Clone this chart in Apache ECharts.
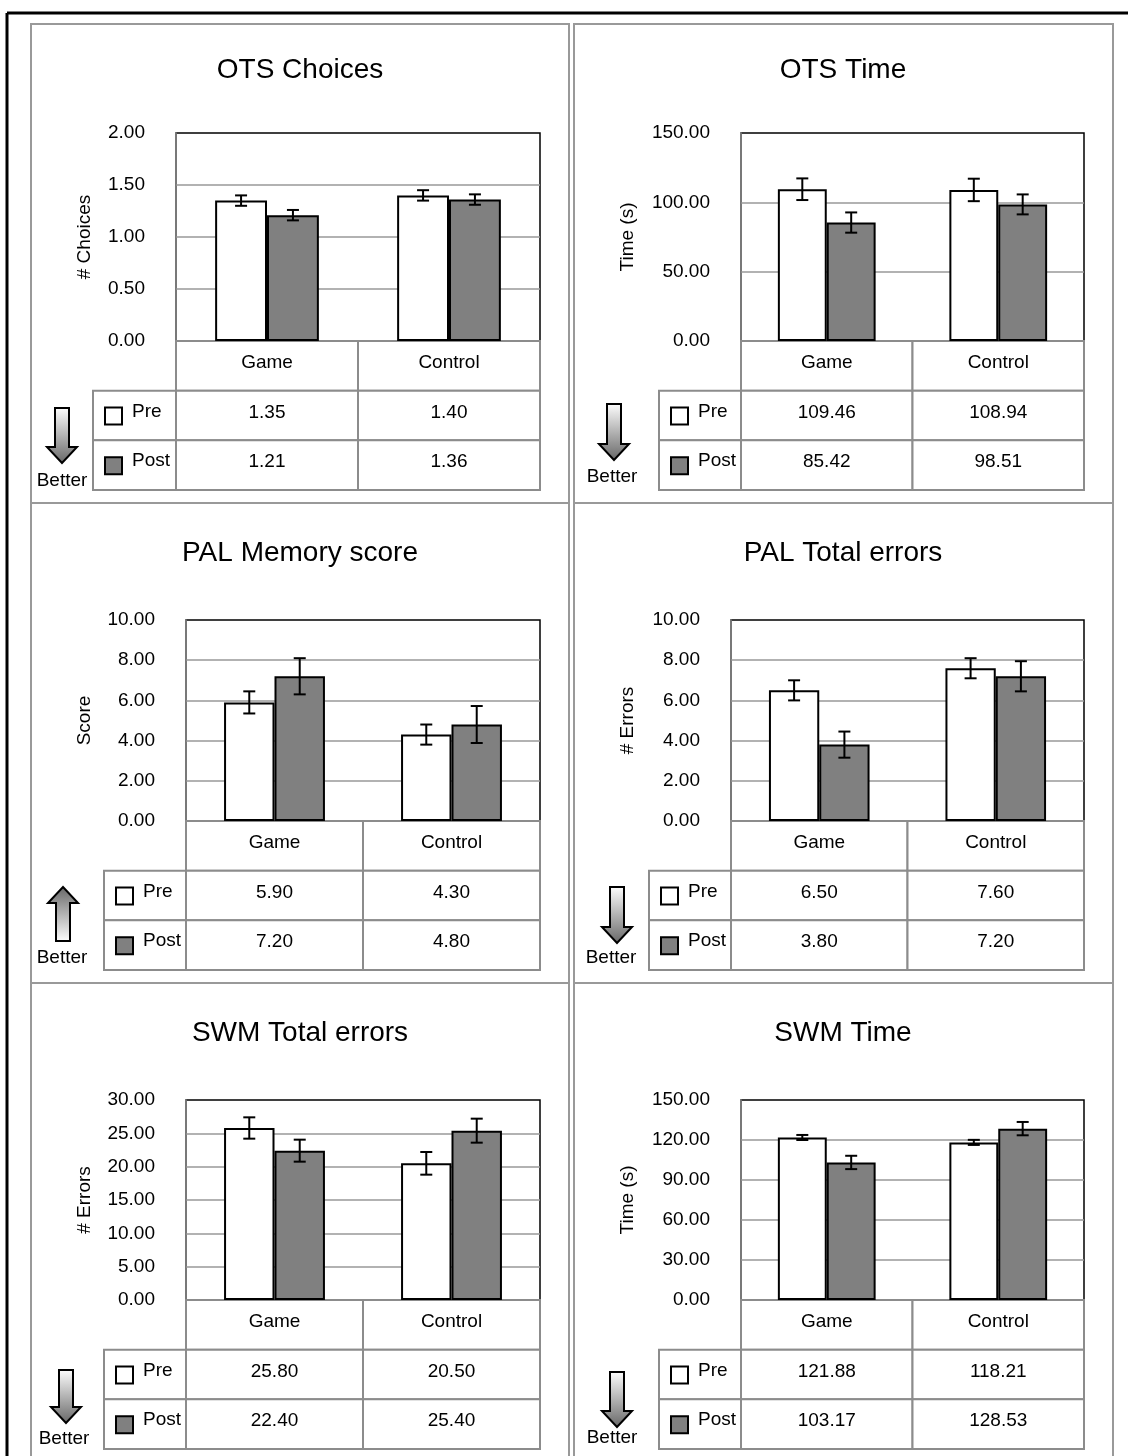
<!DOCTYPE html>
<html><head><meta charset="utf-8">
<script src="https://cdn.jsdelivr.net/npm/echarts@6/dist/echarts.min.js"></script>
<style>html,body{margin:0;padding:0;background:#fff}#c{width:1128px;height:1456px}</style>
</head><body><div id="c"></div>
<script>
// ---------- data ----------
const categories = ['Game', 'Control'];
const seriesNames = ['Pre', 'Post'];
const titles = ['OTS Choices', 'OTS Time', 'PAL Memory score', 'PAL Total errors', 'SWM Total errors', 'SWM Time'];
const yNames = ['# Choices', 'Time (s)', 'Score', '# Errors', '# Errors', 'Time (s)'];
const yMax = [2, 150, 10, 10, 30, 150];
const yInterval = [0.5, 50, 2, 2, 5, 30];
const preValues  = [[1.35, 1.40], [109.46, 108.94], [5.90, 4.30], [6.50, 7.60], [25.80, 20.50], [121.88, 118.21]];
const postValues = [[1.21, 1.36], [85.42, 98.51], [7.20, 4.80], [3.80, 7.20], [22.40, 25.40], [103.17, 128.53]];
const preErrors  = [[0.05, 0.05], [7.8, 8.1], [0.55, 0.5], [0.5, 0.5], [1.6, 1.7], [1.9, 1.9]];
const postErrors = [[0.05, 0.05], [7.3, 7.2], [0.9, 0.92], [0.65, 0.75], [1.65, 1.8], [5, 5]];
const betterDirection = ['down', 'down', 'up', 'down', 'down', 'down'];
const betterLabel = 'Better';

// ---------- layout ----------
const FONT = 'Liberation Sans, Arial, Helvetica, sans-serif';
const FS = 19;
const layout = [
  {left: 176, right: 540, top: 133, bottom: 341, legendW: 83, nameGap: 82, titleX: 300, titleY: 70, ax: 62, a0: 408, a1: 463, bx: 62, by: 481},
  {left: 741, right: 1084, top: 133, bottom: 341, legendW: 82, nameGap: 104, titleX: 843, titleY: 70, ax: 614, a0: 404, a1: 460, bx: 612, by: 477},
  {left: 186, right: 540, top: 620, bottom: 821, legendW: 82, nameGap: 92, titleX: 300, titleY: 553, ax: 63, a0: 887, a1: 941, bx: 62, by: 958},
  {left: 731, right: 1084, top: 620, bottom: 821, legendW: 82, nameGap: 94, titleX: 843, titleY: 553, ax: 617, a0: 887, a1: 943, bx: 611, by: 958},
  {left: 186, right: 540, top: 1100, bottom: 1300, legendW: 82, nameGap: 92, titleX: 300, titleY: 1033, ax: 66, a0: 1370, a1: 1423, bx: 64, by: 1439},
  {left: 741, right: 1084, top: 1100, bottom: 1300, legendW: 82, nameGap: 104, titleX: 843, titleY: 1033, ax: 617, a0: 1372, a1: 1427, bx: 612, by: 1438}
];
const TABLE_H = 149;
const GAP = 0.43;
const PRE_COLOR = '#ffffff', POST_COLOR = '#808080';

const grids = [], xAxes = [], yAxes = [], series = [], graphics = [];

// frame
graphics.push({type: 'line', shape: {x1: 7, y1: 13, x2: 1128, y2: 13}, style: {stroke: '#000', lineWidth: 3}});
graphics.push({type: 'line', shape: {x1: 7, y1: 13, x2: 7, y2: 1456}, style: {stroke: '#000', lineWidth: 3}});
[[31, 569], [574, 1113]].forEach(([x0, x1]) => {
  [[24, 503], [503, 983], [983, 1480]].forEach(([y0, y1]) => {
    graphics.push({type: 'rect', shape: {x: x0, y: y0, width: x1 - x0, height: y1 - y0}, style: {fill: 'none', stroke: '#999', lineWidth: 2}});
  });
});

function errRender(params, api) {
  const ci = api.value(0);
  const band = api.size([1, 0])[0];
  const bw = band * (1 - GAP) / 2;
  const children = [];
  [[1, 2, -1], [3, 4, 1]].forEach(([vi, ei, s]) => {
    const v = api.value(vi), e = api.value(ei);
    const t = api.coord([ci, v + e]), b = api.coord([ci, v - e]);
    const x = t[0] + s * bw / 2;
    const st = {stroke: '#000', lineWidth: 2};
    children.push({type: 'line', shape: {x1: x, y1: t[1], x2: x, y2: b[1]}, style: st});
    children.push({type: 'line', shape: {x1: x - 6, y1: t[1], x2: x + 6, y2: t[1]}, style: st});
    children.push({type: 'line', shape: {x1: x - 6, y1: b[1], x2: x + 6, y2: b[1]}, style: st});
  });
  return {type: 'group', children};
}

titles.forEach((title, p) => {
  const L = layout[p];
  const gP = 2 * p, gT = 2 * p + 1;
  grids.push({left: L.left, top: L.top, width: L.right - L.left, height: L.bottom - L.top, show: true, borderColor: '#000', borderWidth: 1.5, backgroundColor: '#fff'});
  grids.push({left: L.left, top: L.bottom, width: L.right - L.left, height: TABLE_H, show: false});
  xAxes.push({type: 'category', gridIndex: gP, data: categories, axisLine: {show: false}, axisTick: {show: false}, axisLabel: {show: false}});
  xAxes.push({type: 'category', gridIndex: gT, data: categories, show: false});
  yAxes.push({
    type: 'value', gridIndex: gP, min: 0, max: yMax[p], interval: yInterval[p],
    axisLine: {show: true, lineStyle: {color: '#8c8c8c', width: 1.5}}, axisTick: {show: false},
    axisLabel: {formatter: v => v.toFixed(2), fontSize: FS, color: '#000', margin: 31, fontFamily: FONT},
    splitLine: {show: true, showMaxLine: false, lineStyle: {color: '#999', width: 1.5}},
    name: yNames[p], nameLocation: 'middle', nameGap: L.nameGap, nameRotate: 90,
    nameTextStyle: {fontSize: FS, color: '#000', fontFamily: FONT}
  });
  yAxes.push({type: 'category', gridIndex: gT, data: ['', seriesNames[0], seriesNames[1]], inverse: true, show: false});

  series.push({type: 'bar', name: seriesNames[0], xAxisIndex: gP, yAxisIndex: gP, data: preValues[p], barGap: '0%', barCategoryGap: (GAP * 100) + '%',
    itemStyle: {color: PRE_COLOR, borderColor: '#000', borderWidth: 2}, silent: true});
  series.push({type: 'bar', name: seriesNames[1], xAxisIndex: gP, yAxisIndex: gP, data: postValues[p], barGap: '0%', barCategoryGap: (GAP * 100) + '%',
    itemStyle: {color: POST_COLOR, borderColor: '#000', borderWidth: 2}, silent: true});
  series.push({type: 'custom', xAxisIndex: gP, yAxisIndex: gP, z: 5, silent: true,
    data: categories.map((c, i) => [i, preValues[p][i], preErrors[p][i], postValues[p][i], postErrors[p][i]]),
    renderItem: errRender});

  // table cells
  const cells = [];
  categories.forEach((c, i) => {
    cells.push({c: i, r: 0, text: c});
    cells.push({c: i, r: 1, text: preValues[p][i].toFixed(2)});
    cells.push({c: i, r: 2, text: postValues[p][i].toFixed(2)});
  });
  cells.push({c: 0, r: 1, text: seriesNames[0], legend: PRE_COLOR});
  cells.push({c: 0, r: 2, text: seriesNames[1], legend: POST_COLOR});
  series.push({type: 'custom', xAxisIndex: gT, yAxisIndex: gT, silent: true, clip: false,
    data: cells.map(cl => [cl.c, cl.r]),
    renderItem: (params, api) => {
      const cl = cells[params.dataIndex];
      const pt = api.coord([api.value(0), api.value(1)]);
      const sz = api.size([1, 1]);
      const w0 = Math.abs(sz[0]), h = Math.abs(sz[1]);
      let x = pt[0] - w0 / 2, y = pt[1] - h / 2, w = w0;
      const ch = [];
      if (cl.legend) {
        w = L.legendW; x = x - L.legendW;
        ch.push({type: 'rect', shape: {x, y, width: w, height: h}, style: {fill: '#fff', stroke: '#8c8c8c', lineWidth: 2}});
        ch.push({type: 'rect', shape: {x: x + 12, y: pt[1] - 8, width: 17, height: 17}, style: {fill: cl.legend, stroke: '#000', lineWidth: 2}});
        ch.push({type: 'text', style: {text: cl.text, x: x + 39, y: pt[1] - 4, textAlign: 'left', textVerticalAlign: 'middle', fontSize: FS, fontFamily: FONT, fill: '#000'}});
      } else {
        ch.push({type: 'rect', shape: {x, y, width: w, height: h}, style: {fill: '#fff', stroke: '#8c8c8c', lineWidth: 2}});
        ch.push({type: 'text', style: {text: cl.text, x: pt[0], y: pt[1] - 3, textAlign: 'center', textVerticalAlign: 'middle', fontSize: FS, fontFamily: FONT, fill: '#000'}});
      }
      return {type: 'group', children: ch};
    }});

  // title
  graphics.push({type: 'text', style: {text: title, x: L.titleX, y: L.titleY, textAlign: 'center', textVerticalAlign: 'middle', fontSize: 28, fontFamily: FONT, fill: '#000'}});
  // better arrow
  const cx = L.ax, y0 = L.a0, y1 = L.a1, sw = 7, hw = 15, hh = 16;
  let pts, grad;
  if (betterDirection[p] === 'down') {
    pts = [[cx - sw, y0], [cx + sw, y0], [cx + sw, y1 - hh], [cx + hw, y1 - hh], [cx, y1], [cx - hw, y1 - hh], [cx - sw, y1 - hh]];
    grad = new echarts.graphic.LinearGradient(0, 0, 0, 1, [{offset: 0, color: '#ffffff'}, {offset: 1, color: '#666666'}]);
  } else {
    pts = [[cx, y0], [cx + hw, y0 + hh], [cx + sw, y0 + hh], [cx + sw, y1], [cx - sw, y1], [cx - sw, y0 + hh], [cx - hw, y0 + hh]];
    grad = new echarts.graphic.LinearGradient(0, 0, 0, 1, [{offset: 0, color: '#666666'}, {offset: 1, color: '#ffffff'}]);
  }
  graphics.push({type: 'polygon', shape: {points: pts}, style: {fill: grad, stroke: '#000', lineWidth: 2}, z: 10});
  graphics.push({type: 'text', style: {text: betterLabel, x: L.bx, y: L.by, textAlign: 'center', textVerticalAlign: 'middle', fontSize: FS, fontFamily: FONT, fill: '#000'}, z: 10});
});

const chart = echarts.init(document.getElementById('c'), null, {renderer: 'canvas'});
chart.setOption({
  animation: false,
  backgroundColor: '#fff',
  textStyle: {fontFamily: FONT},
  grid: grids, xAxis: xAxes, yAxis: yAxes, series,
  graphic: {elements: graphics}
});
</script></body></html>
